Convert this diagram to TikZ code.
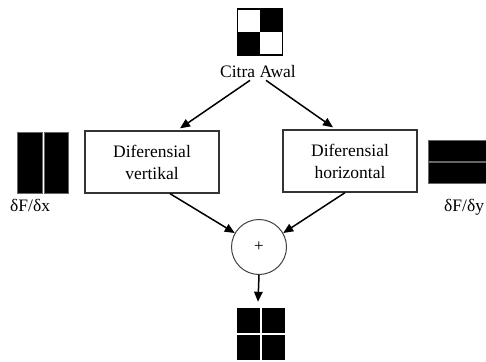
\documentclass[tikz,border=0pt]{standalone}
\usepackage{fontspec}
\setmainfont{Liberation Serif}
\usetikzlibrary{arrows.meta,calc}
\begin{document}
\begin{tikzpicture}[x=1pt,y=-1pt,
  lbl/.style={font=\fontsize{17.5}{21}\selectfont, inner sep=0pt},
  boxnode/.style={draw=black!80, line width=1.3pt, minimum width=134pt, minimum height=62pt, align=center, font=\fontsize{17.5}{22}\selectfont, inner sep=2pt},
  sumnode/.style={draw=black!75, line width=1pt, circle, minimum size=55pt, inner sep=0pt, font=\fontsize{17}{21}\selectfont},
  arr/.style={-{Triangle[length=10pt,width=8.5pt]}, line width=1.5pt}
]
\useasboundingbox (0,0) rectangle (486,361);
% top checker
\node[draw=black, line width=1.2pt, minimum width=45pt, minimum height=46pt, inner sep=0pt] (topimg) at (260,32) {};
\fill[black] (topimg.north) rectangle (topimg.east);
\fill[black] (topimg.west) rectangle (topimg.south);
\node[lbl] (citra) at (258,72) {Citra Awal};
% boxes
\node[boxnode] (lbox) at (152,162) {Diferensial\\vertikal};
\node[boxnode] (rbox) at (350,161) {Diferensial\\horizontal};
% sum
\node[sumnode] (sum) at (259,247) {+};
% bottom image
\node[fill=black, minimum width=48pt, minimum height=52pt, inner sep=0pt] (botimg) at (261,334) {};
\draw[white, line width=1.5pt] (botimg.north) -- (botimg.south) (botimg.west) -- (botimg.east);
% left bars
\node[fill=black, draw=black!60, minimum width=25pt, minimum height=61pt, inner sep=0pt] (lb1) at (29.5,162.5) {};
\node[fill=black, draw=black!60, minimum width=24pt, minimum height=61pt, inner sep=0pt] (lb2) at (56.5,162.5) {};
\node[lbl, anchor=north west] (dx) at (10,199) {δF/δx};
% right bars
\node[fill=black, draw=black!60, minimum width=62pt, minimum height=21pt, inner sep=0pt] (rb1) at (459,151) {};
\node[fill=black, draw=black!60, minimum width=62pt, minimum height=21pt, inner sep=0pt] (rb2) at (459,173) {};
\node[lbl, anchor=north west] (dy) at (444,199) {δF/δy};
% arrows
\draw[arr] ($(citra.south)+(-8,2)$) -- ($(lbox.north)+(28,-2)$);
\draw[arr] ($(citra.south)+(8,2)$) -- ($(rbox.north)+(-17,-2)$);
\draw[arr] ($(lbox.south)+(18,0)$) -- (sum.150);
\draw[arr] ($(rbox.south)+(-5,0)$) -- (sum.30);
\draw[arr] (sum.south) -- ($(botimg.north)+(-3,-6)$);
\end{tikzpicture}
\end{document}
